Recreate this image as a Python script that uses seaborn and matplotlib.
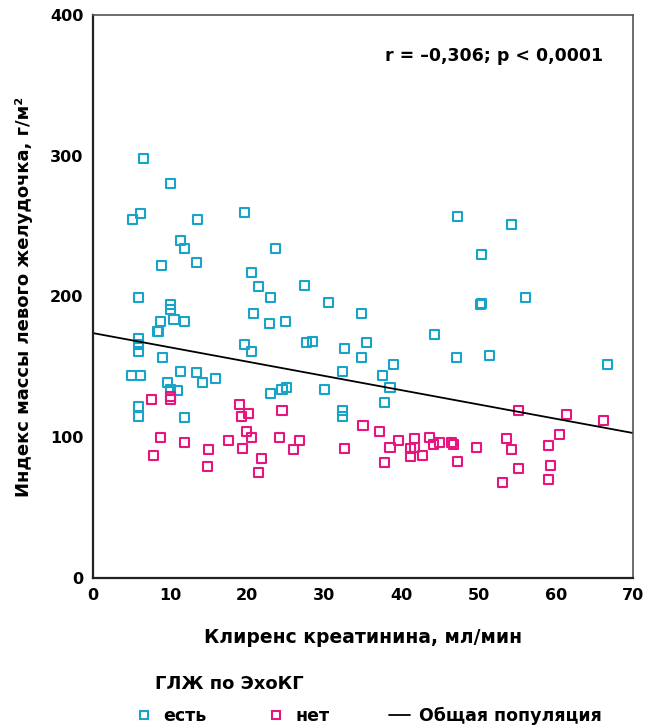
import matplotlib
matplotlib.use("Agg")
import matplotlib.pyplot as plt
from matplotlib.lines import Line2D
import seaborn as sns
import pandas as pd

# ---- data ----
blue_x = [6.5, 10.0, 5.1, 6.2, 13.6, 19.7, 11.4, 11.8, 23.7, 8.9, 13.4, 20.6, 21.5, 23.0,
          5.9, 10.0, 10.0, 10.5, 11.8, 20.8, 22.9, 24.9, 8.7, 8.3, 8.5, 5.9, 5.9, 5.9, 9.0,
          19.7, 20.6, 5.0, 6.2, 11.4, 13.4, 14.2, 15.9, 9.6, 10.0, 10.9, 5.9, 5.9, 11.9,
          23.0, 24.5, 25.1, 47.3, 27.4, 30.5, 34.8, 27.7, 28.4, 32.6, 35.4, 44.3, 34.8,
          38.9, 37.5, 32.4, 30.0, 38.5, 37.8, 32.4, 32.4, 47.1, 54.2, 50.4, 50.2, 50.3,
          56.1, 51.4, 66.7]
blue_y = [298, 280, 255, 259, 255, 260, 240, 234, 234, 222, 224, 217, 207, 199,
          199, 194, 191, 184, 182, 188, 181, 182, 182, 175, 175, 170, 166, 161, 157,
          166, 161, 144, 144, 147, 146, 139, 142, 139, 134, 133, 122, 115, 114,
          131, 134, 135, 257, 208, 196, 188, 167, 168, 163, 167, 173, 157,
          152, 144, 147, 134, 135, 125, 119, 115, 157, 251, 230, 194, 195,
          199, 158, 152]
pink_x = [7.6, 10.0, 10.0, 19.0, 19.2, 20.1, 24.5, 8.8, 11.9, 17.6, 19.9, 20.6, 24.2,
          7.9, 15.0, 19.4, 21.8, 14.8, 21.4, 26.8, 26.0, 32.6, 35.0, 37.1, 39.6, 38.5,
          37.8, 41.7, 41.7, 41.1, 41.2, 42.7, 43.6, 44.1, 44.9, 46.5, 46.7, 47.3, 55.1,
          61.4, 66.2, 49.7, 53.6, 54.2, 55.1, 53.1, 59.0, 60.5, 59.3, 59.0]
pink_y = [127, 129, 127, 123, 115, 117, 119, 100, 96, 98, 104, 100, 100,
          87, 91, 92, 85, 79, 75, 98, 91, 92, 108, 104, 98, 93,
          82, 99, 93, 92, 86, 87, 100, 95, 96, 96, 95, 83, 119,
          116, 112, 93, 99, 91, 78, 68, 94, 102, 80, 70]
line_x = [0, 70]
line_y = [174, 103]

group_labels = ["есть", "нет"]
line_label = "Общая популяция"
legend_title = "ГЛЖ по ЭхоКГ"
annot = "r = –0,306; p < 0,0001"
x_label = "Клиренс креатинина, мл/мин"
y_label = "Индекс массы левого желудочка, г/м²"
x_ticks = [0, 10, 20, 30, 40, 50, 60, 70]
y_ticks = [0, 100, 200, 300, 400]

BLUE = "#1aa3c9"
PINK = "#e6157f"

sns.set_theme(style="white")
plt.rcParams['font.family'] = ['DejaVu Sans']
plt.rcParams['text.color'] = 'black'
plt.rcParams['axes.labelcolor'] = 'black'
plt.rcParams['xtick.color'] = 'black'
plt.rcParams['ytick.color'] = 'black'

df = pd.concat([
    pd.DataFrame({"x": blue_x, "y": blue_y, "g": group_labels[0]}),
    pd.DataFrame({"x": pink_x, "y": pink_y, "g": group_labels[1]}),
])

fig = plt.figure(figsize=(6.46, 7.26), dpi=100)
ax = fig.add_axes([93/646, 1-578/726, (633-93)/646, (578-15)/726])

for lab, col in zip(group_labels, [BLUE, PINK]):
    sub = df[df.g == lab]
    sns.scatterplot(data=sub, x="x", y="y", marker="s", s=42, ax=ax, legend=False,
                    color=col)
    coll = ax.collections[-1]
    coll.set_facecolor("none")
    coll.set_edgecolor(col)
    coll.set_linewidth(1.5)

sns.lineplot(x=line_x, y=line_y, color="black", lw=1.3, ax=ax)

ax.set_xlim(0, 70)
ax.set_ylim(0, 400)
ax.set_xticks(x_ticks)
ax.set_yticks(y_ticks)
ax.tick_params(axis="both", direction="out", length=5, width=3, color="black",
               labelsize=11.5, pad=2, labelcolor="black")
for t in ax.get_xticklabels() + ax.get_yticklabels():
    t.set_fontweight("bold")
for s in ["left", "bottom"]:
    ax.spines[s].set_color("#222222")
    ax.spines[s].set_linewidth(1.6)
for s in ["top", "right"]:
    ax.spines[s].set_color("#555555")
    ax.spines[s].set_linewidth(1.2)
ax.set_xlabel(x_label, fontsize=13.5, fontweight="bold", labelpad=18, color="black")
ax.set_ylabel(y_label, fontsize=13, fontweight="bold", labelpad=12, color="black")
ax.grid(False)

ax.text(0.54, 0.927, annot, transform=ax.transAxes, fontsize=12.5, fontweight="bold",
        ha="left", va="center", color="black")

fig.text(155/646, 1-684/726, legend_title, fontsize=13, fontweight="bold",
         ha="left", va="center", color="black")

items = [
    (Line2D([], [], marker="s", ls="none", markerfacecolor="none", markeredgecolor=BLUE,
            markeredgewidth=1.5, markersize=6), group_labels[0], 134),
    (Line2D([], [], marker="s", ls="none", markerfacecolor="none", markeredgecolor=PINK,
            markeredgewidth=1.5, markersize=6), group_labels[1], 266),
    (Line2D([], [], color="black", lw=1.3), line_label, 389),
]
for h, lab, px in items:
    leg = fig.legend([h], [lab], loc="center left",
                     bbox_to_anchor=(px/646, 1-716/726), frameon=False,
                     fontsize=12.5, handlelength=1.2, handletextpad=0.5,
                     borderaxespad=0, borderpad=0)
    for t in leg.get_texts():
        t.set_fontweight("bold")
        t.set_color("black")

fig.savefig("out.png", dpi=100)
